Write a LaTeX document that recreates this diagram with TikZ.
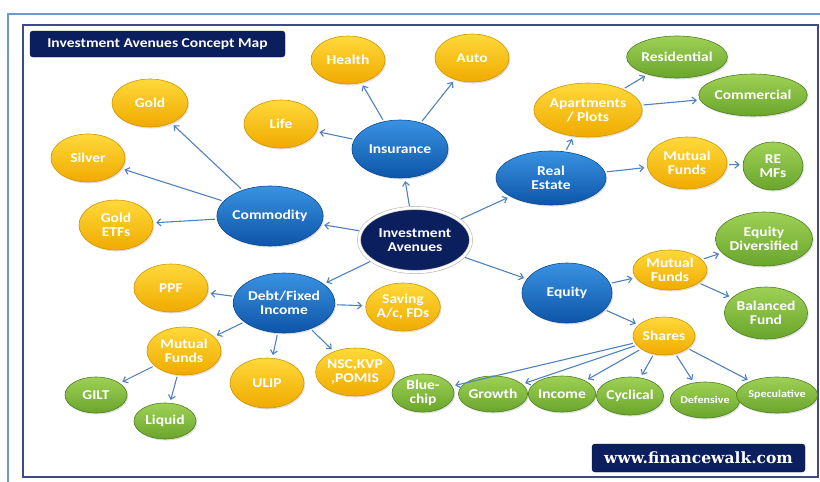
\documentclass[tikz,border=0pt]{standalone}
\usepackage{fontspec}
\setmainfont{Carlito}[FakeStretch=1.15]
\newfontfamily\webfont{DejaVu Serif}
\usetikzlibrary{shapes.geometric,arrows.meta,shadows}

\definecolor{navy}{HTML}{0B1F5E}
\definecolor{linkblue}{HTML}{4F81BD}
\definecolor{frameblue}{HTML}{7196CB}
\definecolor{framedark}{HTML}{3E4C86}
\definecolor{bluetop}{HTML}{3A92E2}
\definecolor{bluebot}{HTML}{0D55A8}
\definecolor{blueline}{HTML}{0A4A93}
\definecolor{yellowtop}{HTML}{FFD93A}
\definecolor{yellowbot}{HTML}{F0AA00}
\definecolor{yellowline}{HTML}{D39500}
\definecolor{greentop}{HTML}{9ED155}
\definecolor{greenbot}{HTML}{6AA52C}
\definecolor{greenline}{HTML}{4E7F22}

\tikzset{
  bubble/.style={ellipse, inner sep=0pt, align=center, text=white,
    font=\bfseries\fontsize{13.5}{14}\selectfont,
    drop shadow={opacity=.25, shadow xshift=1.2pt, shadow yshift=-1.5pt}},
  bluenode/.style={bubble, draw=blueline, line width=.6pt,
    top color=bluetop, bottom color=bluebot},
  yellownode/.style={bubble, draw=yellowline, line width=.6pt,
    top color=yellowtop, bottom color=yellowbot},
  greennode/.style={bubble, draw=greenline, line width=.6pt,
    top color=greentop, bottom color=greenbot},
  hubnode/.style={bubble, fill=navy, draw=gray!55, double=white,
    double distance=2.6pt, line width=.6pt},
  navybox/.style={rectangle, rounded corners=3pt, fill=navy, draw=navy!60!black,
    text=white, inner sep=0pt},
  link/.style={draw=linkblue, line width=1.1pt, shorten <=2pt, shorten >=3pt,
    -{Straight Barb[length=4pt,width=7pt]}},
  smalltext/.style={font=\bfseries\fontsize{10.5}{12}\selectfont}
}

\begin{document}
\begin{tikzpicture}[x=1pt,y=-1pt]
  \useasboundingbox (0,0) rectangle (820,482);

  % frames
  \draw[frameblue, line width=1.6pt] (8,482) -- (8,14) -- (820,14);
  \draw[framedark, line width=1.6pt] (23,25) rectangle (818,477);

  % title and web address
  \node[navybox, minimum width=255pt, minimum height=26pt,
        font=\bfseries\fontsize{13.5}{14}\selectfont] (title) at (157.5,44) {Investment Avenues Concept Map};
  \node[navybox, minimum width=213pt, minimum height=28pt,
        font=\webfont\bfseries\fontsize{15.5}{16}\selectfont] (web) at (698.5,458) {www.financewalk.com};

  % hub
  \node[hubnode, minimum width=112pt, minimum height=64pt] (inv) at (415,240) {Investment\\Avenues};

  % insurance
  \node[bluenode, minimum width=96pt, minimum height=58pt] (ins) at (400,149) {Insurance};
  \node[yellownode, minimum width=74pt, minimum height=48pt] (health) at (348,60) {Health};
  \node[yellownode, minimum width=74pt, minimum height=48pt] (auto) at (472,58) {Auto};
  \node[yellownode, minimum width=74pt, minimum height=48pt] (life) at (281,124) {Life};

  % commodity
  \node[bluenode, minimum width=96pt, minimum height=60pt] (comm) at (270,216) {Commodity};
  \node[yellownode, minimum width=76pt, minimum height=48pt] (gold) at (150,103) {Gold};
  \node[yellownode, minimum width=74pt, minimum height=48pt] (silver) at (88,158) {Silver};
  \node[yellownode, minimum width=74pt, minimum height=50pt] (goldetf) at (116,225) {Gold\\ETFs};

  % debt
  \node[bluenode, minimum width=96pt, minimum height=60pt] (debt) at (284,303) {Debt/Fixed\\Income};
  \node[yellownode, minimum width=74pt, minimum height=48pt] (ppf) at (171,288) {PPF};
  \node[yellownode, minimum width=74pt, minimum height=48pt] (saving) at (403,307) {Saving\\A/c, FDs};
  \node[yellownode, minimum width=74pt, minimum height=48pt] (mfdebt) at (184,351) {Mutual\\Funds};
  \node[yellownode, minimum width=74pt, minimum height=50pt] (ulip) at (267,383) {ULIP};
  \node[yellownode, minimum width=74pt, minimum height=48pt] (nsc) at (355,372) {NSC,KVP\\,POMIS};
  \node[greennode, minimum width=62pt, minimum height=36pt] (gilt) at (96,395) {GILT};
  \node[greennode, minimum width=62pt, minimum height=36pt] (liquid) at (165,421) {Liquid};

  % real estate
  \node[bluenode, minimum width=110pt, minimum height=54pt] (realest) at (551,178) {Real\\Estate};
  \node[yellownode, minimum width=102pt, minimum height=54pt] (apt) at (588,110) {Apartments\\/ Plots};
  \node[greennode, minimum width=90pt, minimum height=42pt] (resid) at (677,57) {Residential};
  \node[greennode, minimum width=88pt, minimum height=42pt] (commerc) at (753,95) {Commercial};
  \node[yellownode, minimum width=80pt, minimum height=52pt] (mfre) at (687,163) {Mutual\\Funds};
  \node[greennode, minimum width=60pt, minimum height=48pt] (remf) at (773,166) {RE\\MFs};

  % equity
  \node[bluenode, minimum width=90pt, minimum height=60pt] (equity) at (567,293) {Equity};
  \node[yellownode, minimum width=74pt, minimum height=40pt] (mfeq) at (670,270) {Mutual\\Funds};
  \node[greennode, minimum width=84pt, minimum height=54pt] (eqdiv) at (764,239) {Equity\\Diversified};
  \node[greennode, minimum width=76pt, minimum height=52pt] (balanced) at (766,313) {Balanced\\Fund};
  \node[yellownode, minimum width=62pt, minimum height=38pt] (shares) at (664,336) {Shares};
  \node[greennode, minimum width=62pt, minimum height=38pt] (bluechip) at (423,393) {Blue-\\chip};
  \node[greennode, minimum width=60pt, minimum height=36pt] (growth) at (493,394) {Growth};
  \node[greennode, minimum width=60pt, minimum height=36pt] (income) at (562,394) {Income};
  \node[greennode, minimum width=62pt, minimum height=38pt] (cyclical) at (630,396) {Cyclical};
  \node[greennode, smalltext, minimum width=62pt, minimum height=36pt] (defensive) at (705,400) {Defensive};
  \node[greennode, smalltext, minimum width=68pt, minimum height=36pt] (specul) at (777,395) {Speculative};

  % connectors
  \path[link] (inv) edge (ins) edge (comm) edge (debt) edge (realest) edge (equity);
  \path[link] (ins) edge (health) edge (auto) edge (life);
  \path[link] (comm) edge (gold) edge (silver) edge (goldetf);
  \path[link] (debt) edge (ppf) edge (saving) edge (mfdebt) edge (ulip) edge (nsc);
  \path[link] (mfdebt) edge (gilt) edge (liquid);
  \path[link] (realest) edge (apt) edge (mfre);
  \path[link] (apt) edge (resid) edge (commerc);
  \path[link] (mfre) edge (remf);
  \path[link] (equity) edge (mfeq) edge (shares);
  \path[link] (mfeq) edge (eqdiv) edge (balanced);
  \path[link] (shares) edge (bluechip) edge (growth) edge (income)
                       edge (cyclical) edge (defensive) edge (specul);
\end{tikzpicture}
\end{document}
